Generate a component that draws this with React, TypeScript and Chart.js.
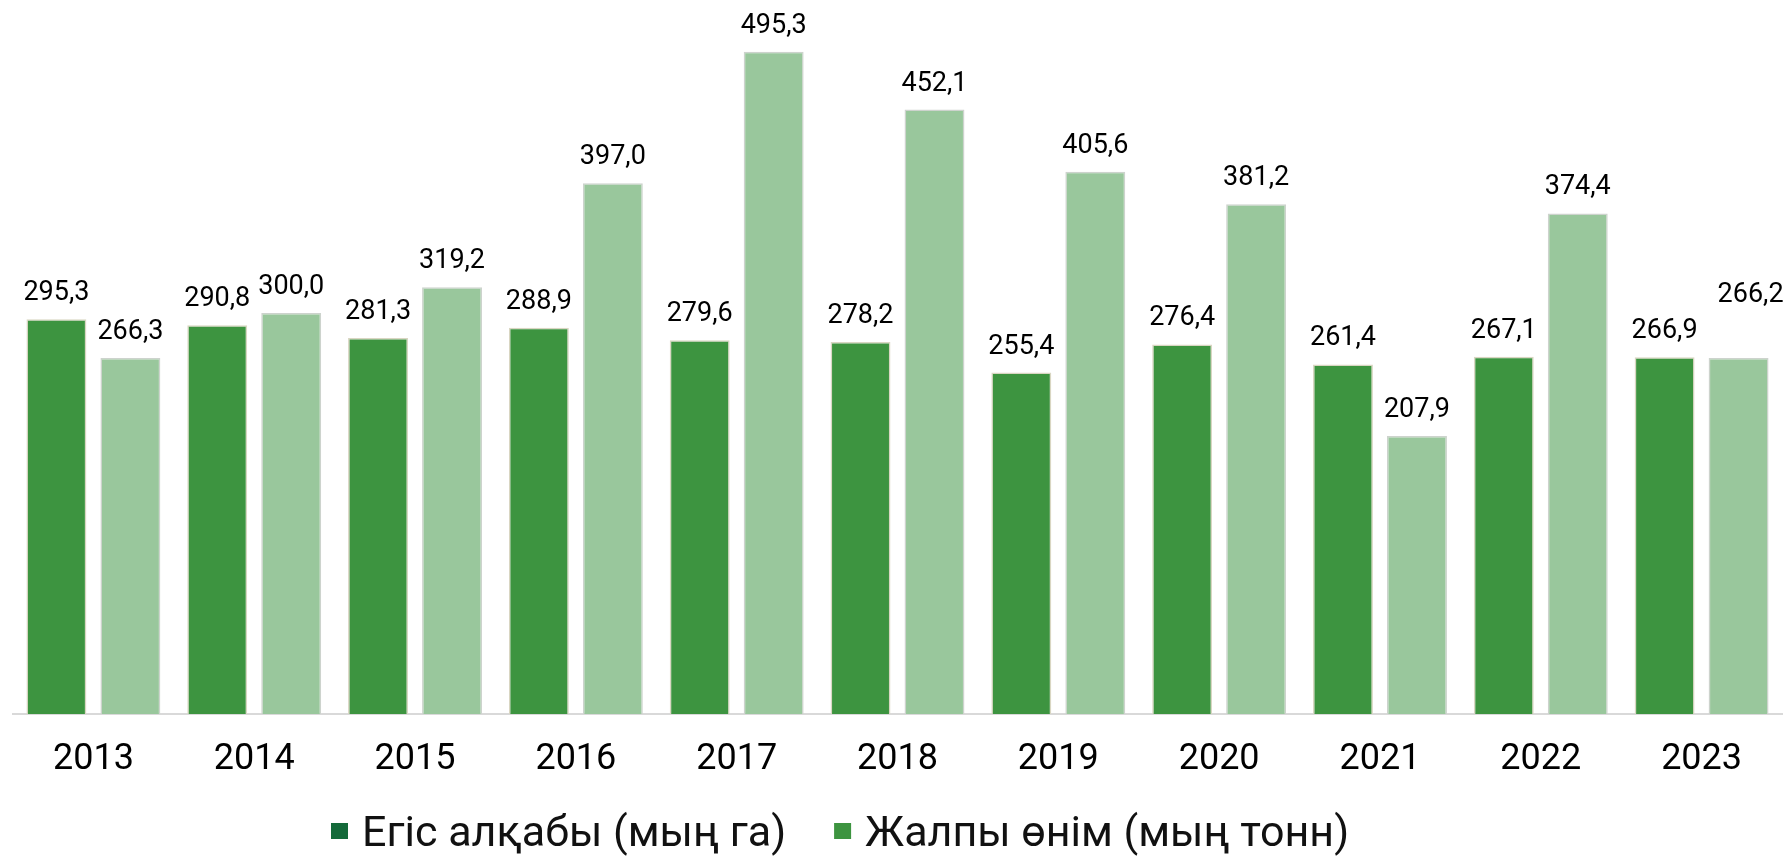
import React, { useEffect, useRef } from 'react';
import { Chart, registerables } from 'chart.js';

Chart.register(...registerables);

const categories = ['2013', '2014', '2015', '2016', '2017', '2018', '2019', '2020', '2021', '2022', '2023'];
const sownArea = [295.3, 290.8, 281.3, 288.9, 279.6, 278.2, 255.4, 276.4, 261.4, 267.1, 266.9];
const totalYield = [266.3, 300.0, 319.2, 397.0, 495.3, 452.1, 405.6, 381.2, 207.9, 374.4, 266.2];
const seriesNames = ['Егіс алқабы (мың га)', 'Жалпы өнім (мың тонн)'];
const yMax = 534;

const barColors = ['#3d9440', '#99c79c'];
const barBorders = ['#d9d6c2', '#cdd3cd'];
const legendColors = ['#146a3a', '#3d9440'];

const fmt = (v: number) => v.toFixed(1).replace('.', ',');

const dataLabelPlugin = {
  id: 'dataLabels',
  afterDatasetsDraw(chart: any) {
    const ctx = chart.ctx;
    ctx.save();
    ctx.font = '27px Roboto';
    ctx.fillStyle = '#000';
    ctx.textAlign = 'center';
    ctx.textBaseline = 'alphabetic';
    chart.data.datasets.forEach((ds: any, di: number) => {
      const meta = chart.getDatasetMeta(di);
      meta.data.forEach((bar: any, i: number) => {
        let x = bar.x;
        let y = bar.y - 19;
        if (di === 1 && i === ds.data.length - 1) {
          x += 12;
          y = bar.y - 56;
        }
        ctx.fillText(fmt(ds.data[i]), x, y);
      });
    });
    ctx.restore();
  },
};

const legendPlugin = {
  id: 'customLegend',
  afterDraw(chart: any) {
    const ctx = chart.ctx;
    ctx.save();
    ctx.font = '43px Roboto';
    ctx.textAlign = 'left';
    ctx.textBaseline = 'alphabetic';
    let x = 331;
    const baseline = 846;
    seriesNames.forEach((name, i) => {
      ctx.fillStyle = legendColors[i];
      ctx.fillRect(x, 823, 17, 16);
      ctx.fillStyle = '#111';
      const tx = x + 31;
      ctx.fillText(name, tx, baseline);
      const w = ctx.measureText(name).width;
      x = tx + w + 48;
    });
    ctx.restore();
  },
};

export default function App() {
  const ref = useRef<HTMLCanvasElement | null>(null);
  useEffect(() => {
    document.body.style.margin = '0';
    if (!ref.current) return;
    const chart = new Chart(ref.current, {
      type: 'bar',
      data: {
        labels: categories,
        datasets: [
          {
            label: seriesNames[0],
            data: sownArea,
            backgroundColor: barColors[0],
            borderColor: barBorders[0],
            borderWidth: 1.5,
            categoryPercentage: 0.92,
            barPercentage: 0.81,
          },
          {
            label: seriesNames[1],
            data: totalYield,
            backgroundColor: barColors[1],
            borderColor: barBorders[1],
            borderWidth: 1.5,
            categoryPercentage: 0.92,
            barPercentage: 0.81,
          },
        ],
      },
      options: {
        animation: false,
        responsive: true,
        maintainAspectRatio: false,
        layout: { padding: { left: 13, right: 1, top: 0, bottom: 0 } },
        plugins: {
          legend: { display: false },
          tooltip: { enabled: false },
        },
        scales: {
          x: {
            grid: { display: false, drawTicks: false },
            border: { display: true, color: '#d9d9d9', width: 2 },
            ticks: {
              font: { family: 'Roboto', size: 36 },
              color: '#000',
              padding: 24,
            },
            afterFit: (scale: any) => {
              scale.height = 144;
            },
          },
          y: {
            display: false,
            min: 0,
            max: yMax,
          },
        },
      },
      plugins: [dataLabelPlugin, legendPlugin],
    });
    return () => chart.destroy();
  }, []);
  return (
    <div style={{ position: 'fixed', left: 0, top: 0, width: '1783px', height: '858px', background: '#fff' }}>
      <canvas ref={ref} />
    </div>
  );
}
